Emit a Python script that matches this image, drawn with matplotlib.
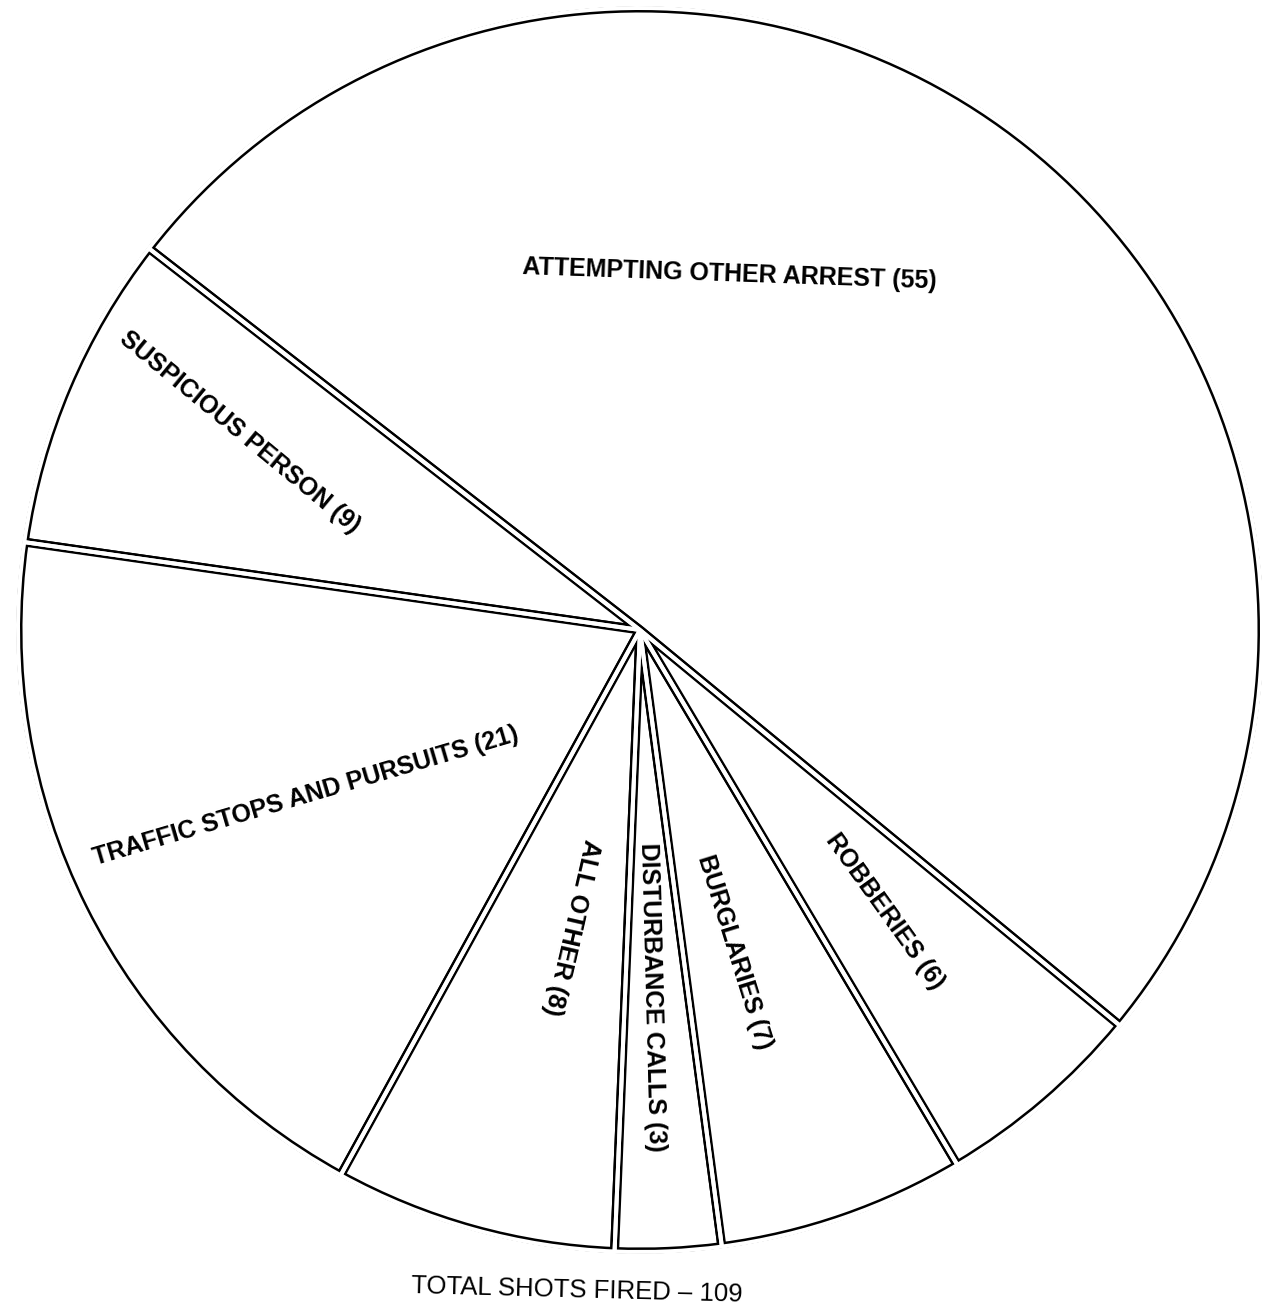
import numpy as np
import matplotlib
matplotlib.use("Agg")
import matplotlib.pyplot as plt
from matplotlib.patches import Circle

# data
categories = ["ATTEMPTING OTHER ARREST", "SUSPICIOUS PERSON", "TRAFFIC STOPS AND PURSUITS",
              "ALL OTHER", "DISTURBANCE CALLS", "BURGLARIES", "ROBBERIES"]
shots = [55, 9, 21, 8, 3, 7, 6]
total_text = "TOTAL SHOTS FIRED \u2013 109"

# label layout: angle (deg) and distance (fraction of radius) from the pie centre, text rotation
label_angle = [75.8, 153.7, 206.5, 257.1, 271.9, 286.3, 311.1]
label_dist = [0.59, 0.717, 0.60, 0.49, 0.59, 0.54, 0.60]
label_rot = [-2.0, -39.5, 16.4, -103.0, -88.5, -72.7, -54.3]

W, H = 1262, 1312
PX = 0.72  # points per pixel at dpi 100

plt.rcParams["font.family"] = ["Liberation Sans", "DejaVu Sans"]

fig = plt.figure(figsize=(W / 100, H / 100), dpi=100)
ax = fig.add_axes([0, 0, 1, 1])

cx, cy = 640, H - 630
R = 622
start = -39.5

# thick black edges, then a white core on top -> double lines between slices
ax.pie(shots, startangle=start, center=(cx, cy), radius=R,
       colors=["white"] * len(shots),
       wedgeprops=dict(edgecolor="black", linewidth=9 * PX, joinstyle="bevel"))
ax.pie(shots, startangle=start, center=(cx, cy), radius=R,
       wedgeprops=dict(fill=False, edgecolor="white", linewidth=4 * PX, joinstyle="bevel"))
# hide the outer half of the doubled rim so the circle stays a single line
ax.add_patch(Circle((cx, cy), R + 6.5, fill=False, edgecolor="white", linewidth=10 * PX))

for name, n, ang, d, rot in zip(categories, shots, label_angle, label_dist, label_rot):
    t = np.deg2rad(ang)
    x = cx + d * R * np.cos(t)
    y = cy + d * R * np.sin(t)
    ax.text(x, y, f"{name} ({n})", rotation=rot, rotation_mode="anchor",
            ha="center", va="center", fontsize=18, fontweight="bold", color="black")

ax.text(577, H - 1290, total_text, rotation=-1.5, rotation_mode="anchor",
        ha="center", va="center", fontsize=18.5, color="black")

ax.set_xlim(0, W)
ax.set_ylim(0, H)
ax.set_aspect("equal")
ax.axis("off")

fig.savefig("out.png", dpi=100, facecolor="white")
